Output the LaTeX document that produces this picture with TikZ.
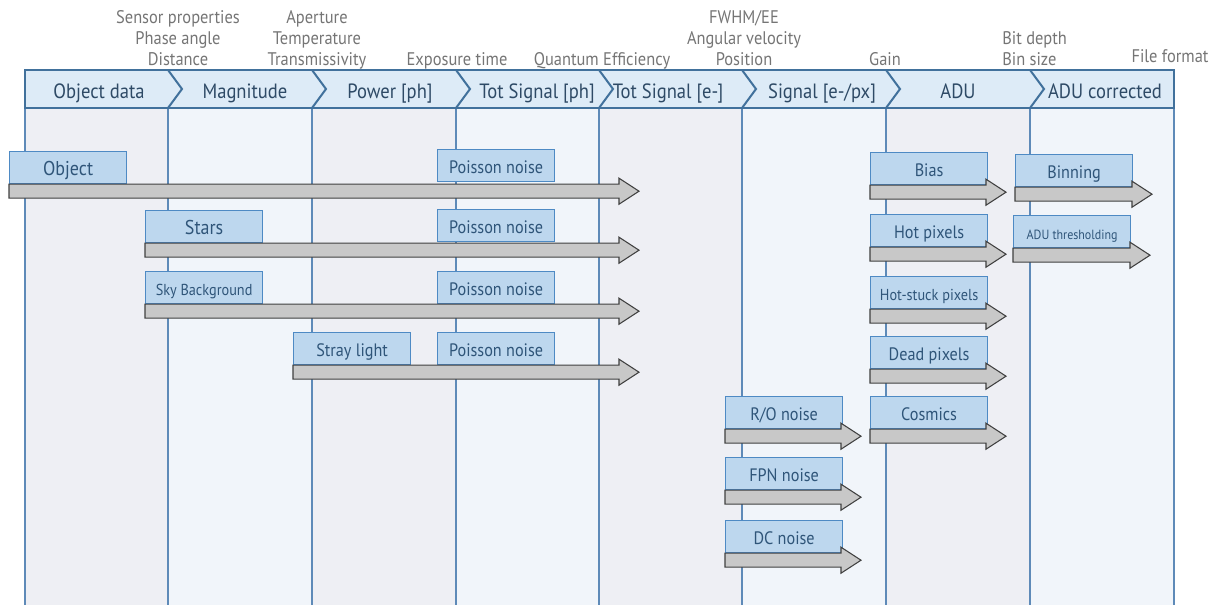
\documentclass[tikz,border=0pt]{standalone}
\usepackage{fontspec}
\setmainfont{PT Sans}[FakeStretch=0.9]
\usetikzlibrary{calc}
\definecolor{colA}{HTML}{EEEFF4}
\definecolor{colB}{HTML}{F1F5FA}
\definecolor{collinec}{HTML}{5E8AB8}
\definecolor{headfill}{HTML}{DDEBF7}
\definecolor{headline}{HTML}{41719C}
\definecolor{headtext}{HTML}{2E4A66}
\definecolor{annottext}{HTML}{757575}
\definecolor{boxfill}{HTML}{BDD7EE}
\definecolor{boxline}{HTML}{4E8AC4}
\definecolor{boxtext}{HTML}{2F5579}
\definecolor{barfill}{HTML}{C8C8C8}
\definecolor{barline}{HTML}{404040}

% bar under a stage box, ending in an arrow tip at x = #2 (px)
\newcommand\databar[2]{%
  \draw[databar] let \p1=(#1.south west) in
    (\x1,\y1) -- ({#2*0.75pt-15pt},\y1) -- ({#2*0.75pt-15pt},\y1+4.5pt)
    -- ({#2*0.75pt},\y1-5.25pt) -- ({#2*0.75pt-15pt},\y1-15pt)
    -- ({#2*0.75pt-15pt},\y1-10.5pt) -- (\x1,\y1-10.5pt) -- cycle;}

\begin{document}
\begin{tikzpicture}[x=0.75pt,y=-0.75pt,
  colline/.style={draw=collinec,line width=1.1pt},
  headborder/.style={draw=headline,line width=1.5pt,line join=miter},
  hdr/.style={anchor=base,inner sep=0pt,text=headtext,font=\fontsize{15.5}{18}\selectfont},
  annot/.style={inner sep=0pt,text=annottext,align=center,text depth=0pt,
    font=\fontsize{13.7}{15.75}\selectfont},
  stagebox/.style={draw=boxline,fill=boxfill,line width=0.9pt,anchor=north west,
    minimum width=87.75pt,minimum height=24pt,inner sep=0pt,text=boxtext,
    text height=12pt,text depth=0pt,font=\fontsize{13.5}{15}\selectfont},
  bigtxt/.style={font=\fontsize{15}{17}\selectfont},
  smalltxt/.style={font=\fontsize{11.9}{14}\selectfont},
  tinytxt/.style={font=\fontsize{10}{12}\selectfont},
  databar/.style={draw=barline,fill=barfill,line width=0.8pt,line join=miter}]

\useasboundingbox (0,0) rectangle (1219,605);

% column backgrounds
\foreach \xa/\xb/\cc in {25/168/colA,168/312/colB,312/456/colA,456/599/colB,
                          599/742/colA,742/886/colB,886/1030/colA,1030/1174/colB}
  \fill[\cc] (\xa,108) rectangle (\xb,605);
\foreach \xb in {25,168,312,456,599,742,886,1030,1174}
  \draw[colline] (\xb,108) -- (\xb,605);

% stage header with chevrons
\fill[headfill] (25,70) rectangle (1174,108);
\draw[headborder] (25,70) rectangle (1174,108);
\foreach \xb in {168,312,456,599,742,886,1030}
  \draw[headborder] (\xb,70) -- (\xb+14,89) -- (\xb,108);

\node[hdr] (h1) at (99,99) {Object data};
\node[hdr] (h2) at (245,99) {Magnitude};
\node[hdr] (h3) at (390,99) {Power [ph]};
\node[hdr] (h4) at (537,99) {Tot Signal [ph]};
\node[hdr] (h5) at (668,99) {Tot Signal [e-]};
\node[hdr] (h6) at (822,99) {Signal [e-/px]};
\node[hdr] (h7) at (958,99) {ADU};
\node[hdr] (h8) at (1105,99) {ADU corrected};

% parameters entering at each stage transition
\node[annot,anchor=south] (a1) at (178,66) {Sensor properties\\Phase angle\\Distance};
\node[annot,anchor=south] (a2) at (317,66) {Aperture\\Temperature\\Transmissivity};
\node[annot,anchor=south] (a3) at (457,66) {Exposure time};
\node[annot,anchor=south] (a4) at (602,66) {Quantum Efficiency};
\node[annot,anchor=south] (a5) at (744,66) {FWHM/EE\\Angular velocity\\Position};
\node[annot,anchor=south] (a6) at (885,66) {Gain};
\node[annot,anchor=south west,align=left] (a7) at (1002,66) {Bit depth\\Bin size};
\node[annot,anchor=south] (a8) at (1170,63) {File format};

% signal contributions
\node[stagebox,bigtxt] (obj) at (9,151) {Object};
\node[stagebox] (pois1) at (437,149) {Poisson noise};
\node[stagebox,bigtxt] (stars) at (145,210) {Stars};
\node[stagebox] (pois2) at (437,209) {Poisson noise};
\node[stagebox,smalltxt] (sky) at (145,271) {Sky Background};
\node[stagebox] (pois3) at (437,271) {Poisson noise};
\node[stagebox] (stray) at (293,332) {Stray light};
\node[stagebox] (pois4) at (437,332) {Poisson noise};

\databar{obj}{639}
\databar{stars}{639}
\databar{sky}{639}
\databar{stray}{639}

% detector effects
\node[stagebox] (ro) at (725,396) {R/O noise};
\node[stagebox] (fpn) at (725,457) {FPN noise};
\node[stagebox] (dc) at (725,520) {DC noise};
\databar{ro}{861}
\databar{fpn}{861}
\databar{dc}{861}

\node[stagebox] (bias) at (870,152) {Bias};
\node[stagebox] (hot) at (870,214) {Hot pixels};
\node[stagebox,smalltxt] (hotstuck) at (870,276) {Hot-stuck pixels};
\node[stagebox] (dead) at (870,336) {Dead pixels};
\node[stagebox] (cosmics) at (870,396) {Cosmics};
\databar{bias}{1006}
\databar{hot}{1006}
\databar{hotstuck}{1006}
\databar{dead}{1006}
\databar{cosmics}{1006}

% post-processing
\node[stagebox] (binning) at (1015,154) {Binning};
\node[stagebox,tinytxt] (adut) at (1013,215) {ADU thresholding};
\databar{binning}{1152}
\databar{adut}{1150}

\end{tikzpicture}
\end{document}
